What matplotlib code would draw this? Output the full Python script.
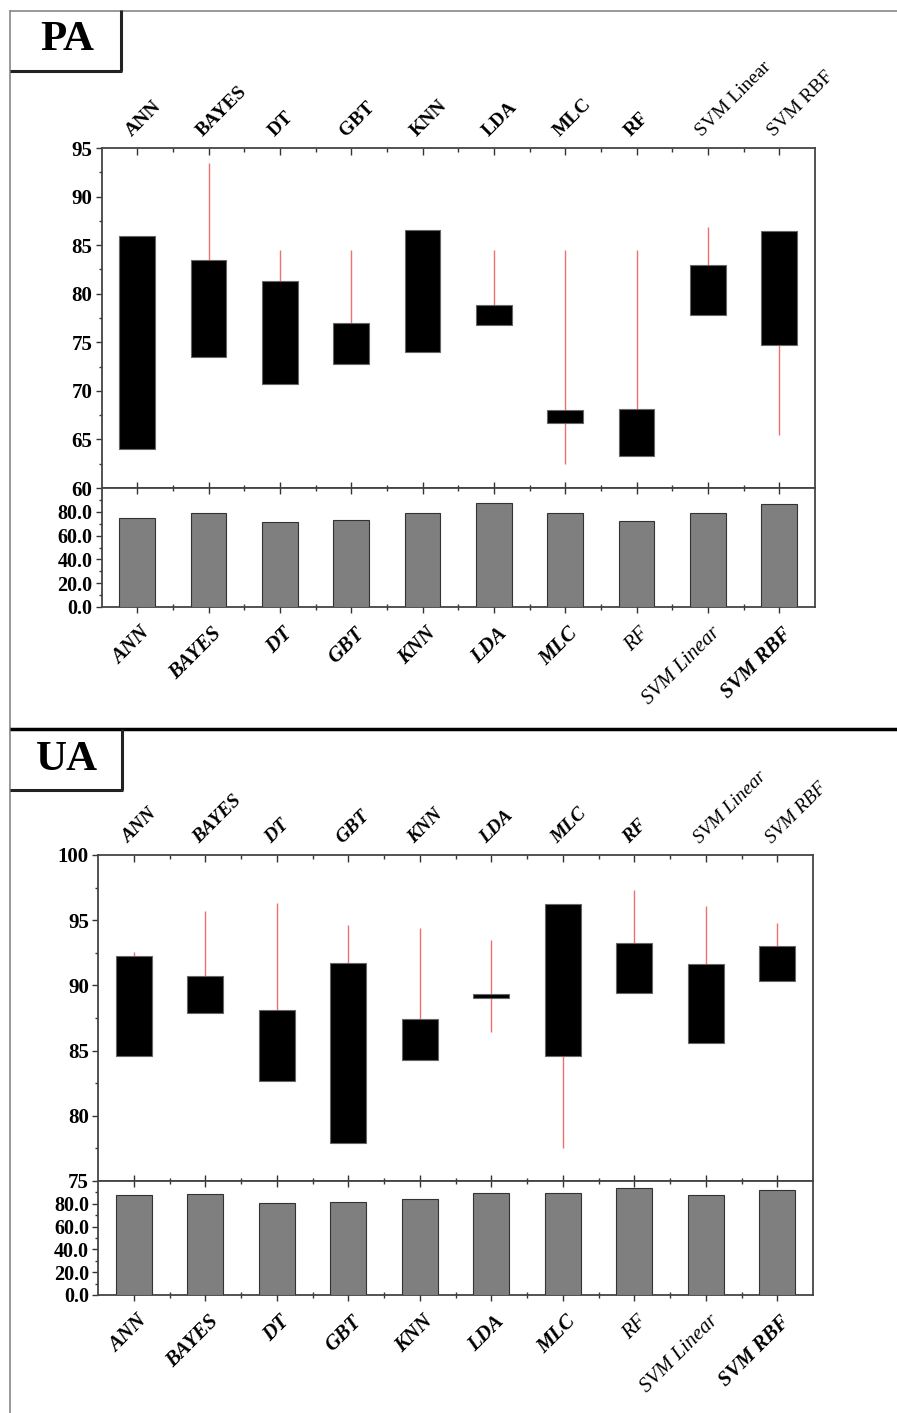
import numpy as np
import matplotlib.pyplot as plt
from matplotlib.lines import Line2D
from matplotlib import transforms
from matplotlib.ticker import MultipleLocator, FixedLocator

plt.rcParams['font.family'] = ['Liberation Serif', 'DejaVu Serif']

models = ['ANN', 'BAYES', 'DT', 'GBT', 'KNN', 'LDA', 'MLC', 'RF', 'SVM Linear', 'SVM RBF']

# PA panel
pa_box_low = [64.0, 73.5, 70.7, 72.8, 74.0, 76.8, 66.7, 63.3, 77.8, 74.7]
pa_box_high = [85.9, 83.5, 81.3, 77.0, 86.6, 78.8, 68.0, 68.1, 83.0, 86.5]
pa_whisk_low = [64.0, 73.5, 70.7, 72.8, 74.0, 76.8, 62.5, 63.3, 77.8, 65.5]
pa_whisk_high = [85.9, 93.5, 84.5, 84.5, 86.6, 84.5, 84.5, 84.5, 86.9, 86.5]
pa_bar = [74.6, 78.6, 71.8, 73.2, 79.2, 87.6, 78.9, 72.4, 78.9, 86.8]

# UA panel
ua_box_low = [84.6, 87.9, 82.7, 77.9, 84.3, 89.0, 84.55, 89.45, 85.6, 90.35]
ua_box_high = [92.25, 90.75, 88.1, 91.75, 87.4, 89.35, 96.25, 93.25, 91.65, 93.05]
ua_whisk_low = [84.6, 87.9, 82.7, 77.9, 84.3, 86.4, 77.5, 89.45, 85.6, 90.35]
ua_whisk_high = [92.55, 95.7, 96.3, 94.6, 94.4, 93.5, 96.25, 97.35, 96.1, 94.8]
ua_bar = [87.3, 89.0, 80.6, 81.5, 84.4, 89.3, 89.3, 93.7, 87.3, 92.0]

# label weights (style only)
pa_top_w = ['bold'] * 8 + ['normal', 'normal']
ua_top_w = ['bold'] * 8 + ['normal', 'normal']
bot_w = ['bold'] * 7 + ['normal', 'normal', 'bold']

W, H = 897, 1413
fig = plt.figure(figsize=(W / 100, H / 100), dpi=100)


def fx(x):
    return x / W


def fy(y):
    return 1 - y / H


def line(x0, y0, x1, y1, color, lw):
    fig.add_artist(Line2D([fx(x0), fx(x1)], [fy(y0), fy(y1)],
                          transform=fig.transFigure, color=color, lw=lw,
                          solid_capstyle='butt'))


def panel(left, right, top, mid, bottom, box_lo, box_hi, wl, wh, bars,
          ylim, top_w, top_style):
    x = np.arange(len(models))
    ax = fig.add_axes([fx(left), fy(mid), fx(right) - fx(left), fy(top) - fy(mid)])
    axb = fig.add_axes([fx(left), fy(bottom), fx(right) - fx(left), fy(mid) - fy(bottom)])

    lo = np.array(box_lo)
    hi = np.array(box_hi)
    ax.vlines(x, wl, wh, color='#f07070', lw=1.0, zorder=2)
    ax.bar(x, hi - lo, bottom=lo, width=0.5, color='black',
           edgecolor='#666666', lw=0.8, zorder=3)
    ax.set_xlim(-0.5, 9.5)
    ax.set_ylim(*ylim)
    ax.yaxis.set_major_locator(MultipleLocator(5))
    ax.yaxis.set_minor_locator(MultipleLocator(2.5))
    ax.set_xticks(x)
    ax.xaxis.set_minor_locator(FixedLocator(x[:-1] + 0.5))
    ax.tick_params(axis='x', which='both', top=True, bottom=False,
                   labelbottom=False, labeltop=False, direction='in', color='#333333')
    ax.tick_params(axis='x', which='major', length=5, width=1.0)
    ax.tick_params(axis='x', which='minor', length=3, width=1.0)
    ax.tick_params(axis='y', which='major', direction='out', length=4.5,
                   width=1.0, labelsize=15, pad=2, color='#333333')
    ax.tick_params(axis='y', which='minor', direction='out', length=2.5, width=1.0,
                   color='#333333')
    for t in ax.get_yticklabels():
        t.set_fontweight('bold')
    for s in ax.spines.values():
        s.set_color('#444444')
        s.set_linewidth(1.3)

    off = transforms.ScaledTranslation(-2 / 72, 6 / 72, fig.dpi_scale_trans)
    trans = transforms.blended_transform_factory(ax.transData, ax.transAxes) + off
    for i, name in enumerate(models):
        ax.text(i, 1.0, name, transform=trans, rotation=45, rotation_mode='anchor',
                ha='left', va='bottom', fontsize=14, fontweight=top_w[i],
                fontstyle=top_style)

    axb.bar(x, bars, width=0.5, color='#7f7f7f', edgecolor='#333333', lw=0.8, zorder=3)
    axb.set_xlim(-0.5, 9.5)
    axb.set_ylim(0, 100)
    axb.yaxis.set_major_locator(FixedLocator([0, 20, 40, 60, 80]))
    axb.yaxis.set_minor_locator(FixedLocator([10, 30, 50, 70, 90]))
    axb.set_yticklabels(['0.0', '20.0', '40.0', '60.0', '80.0'])
    axb.set_xticks(x)
    axb.xaxis.set_minor_locator(FixedLocator(x[:-1] + 0.5))
    axb.tick_params(axis='x', which='both', top=True, bottom=True, labelbottom=False,
                    direction='inout', color='#333333')
    axb.tick_params(axis='x', which='major', length=9, width=1.0)
    axb.tick_params(axis='x', which='minor', length=5, width=1.0)
    axb.tick_params(axis='y', which='major', direction='out', length=4.5, width=1.0,
                    labelsize=14.5, pad=2, color='#333333')
    axb.tick_params(axis='y', which='minor', direction='out', length=2.5, width=1.0,
                    color='#333333')
    for t in axb.get_yticklabels():
        t.set_fontweight('bold')
    for s in axb.spines.values():
        s.set_color('#444444')
        s.set_linewidth(1.3)

    off2 = transforms.ScaledTranslation(2 / 72, -12 / 72, fig.dpi_scale_trans)
    trans2 = transforms.blended_transform_factory(axb.transData, axb.transAxes) + off2
    for i, name in enumerate(models):
        axb.text(i, 0.0, name, transform=trans2, rotation=45, rotation_mode='anchor',
                 ha='right', va='top', fontsize=15, fontweight=bot_w[i],
                 fontstyle='italic')
    return ax, axb


panel(101.5, 815, 148, 488, 607, pa_box_low, pa_box_high, pa_whisk_low,
      pa_whisk_high, pa_bar, (60, 95), pa_top_w, 'normal')
panel(98, 813, 855, 1181, 1295, ua_box_low, ua_box_high, ua_whisk_low,
      ua_whisk_high, ua_bar, (75, 100), ua_top_w, 'italic')

# frame and title boxes
line(10, 10, 10, 1413, '#888888', 1.2)
line(10, 10.5, 897, 10.5, '#888888', 1.2)
line(10, 729, 897, 729, 'black', 2.5)
line(121, 10, 121, 71, '#222222', 2.2)
line(10, 71, 122, 71, '#222222', 2.2)
line(122, 729, 122, 790, '#222222', 2.2)
line(10, 790, 123, 790, '#222222', 2.2)

fig.text(fx(67), fy(40), 'PA', fontsize=31, fontweight='bold', ha='center', va='center')
fig.text(fx(67), fy(760), 'UA', fontsize=31, fontweight='bold', ha='center', va='center')

fig.savefig('out.png', dpi=100, facecolor='white')
